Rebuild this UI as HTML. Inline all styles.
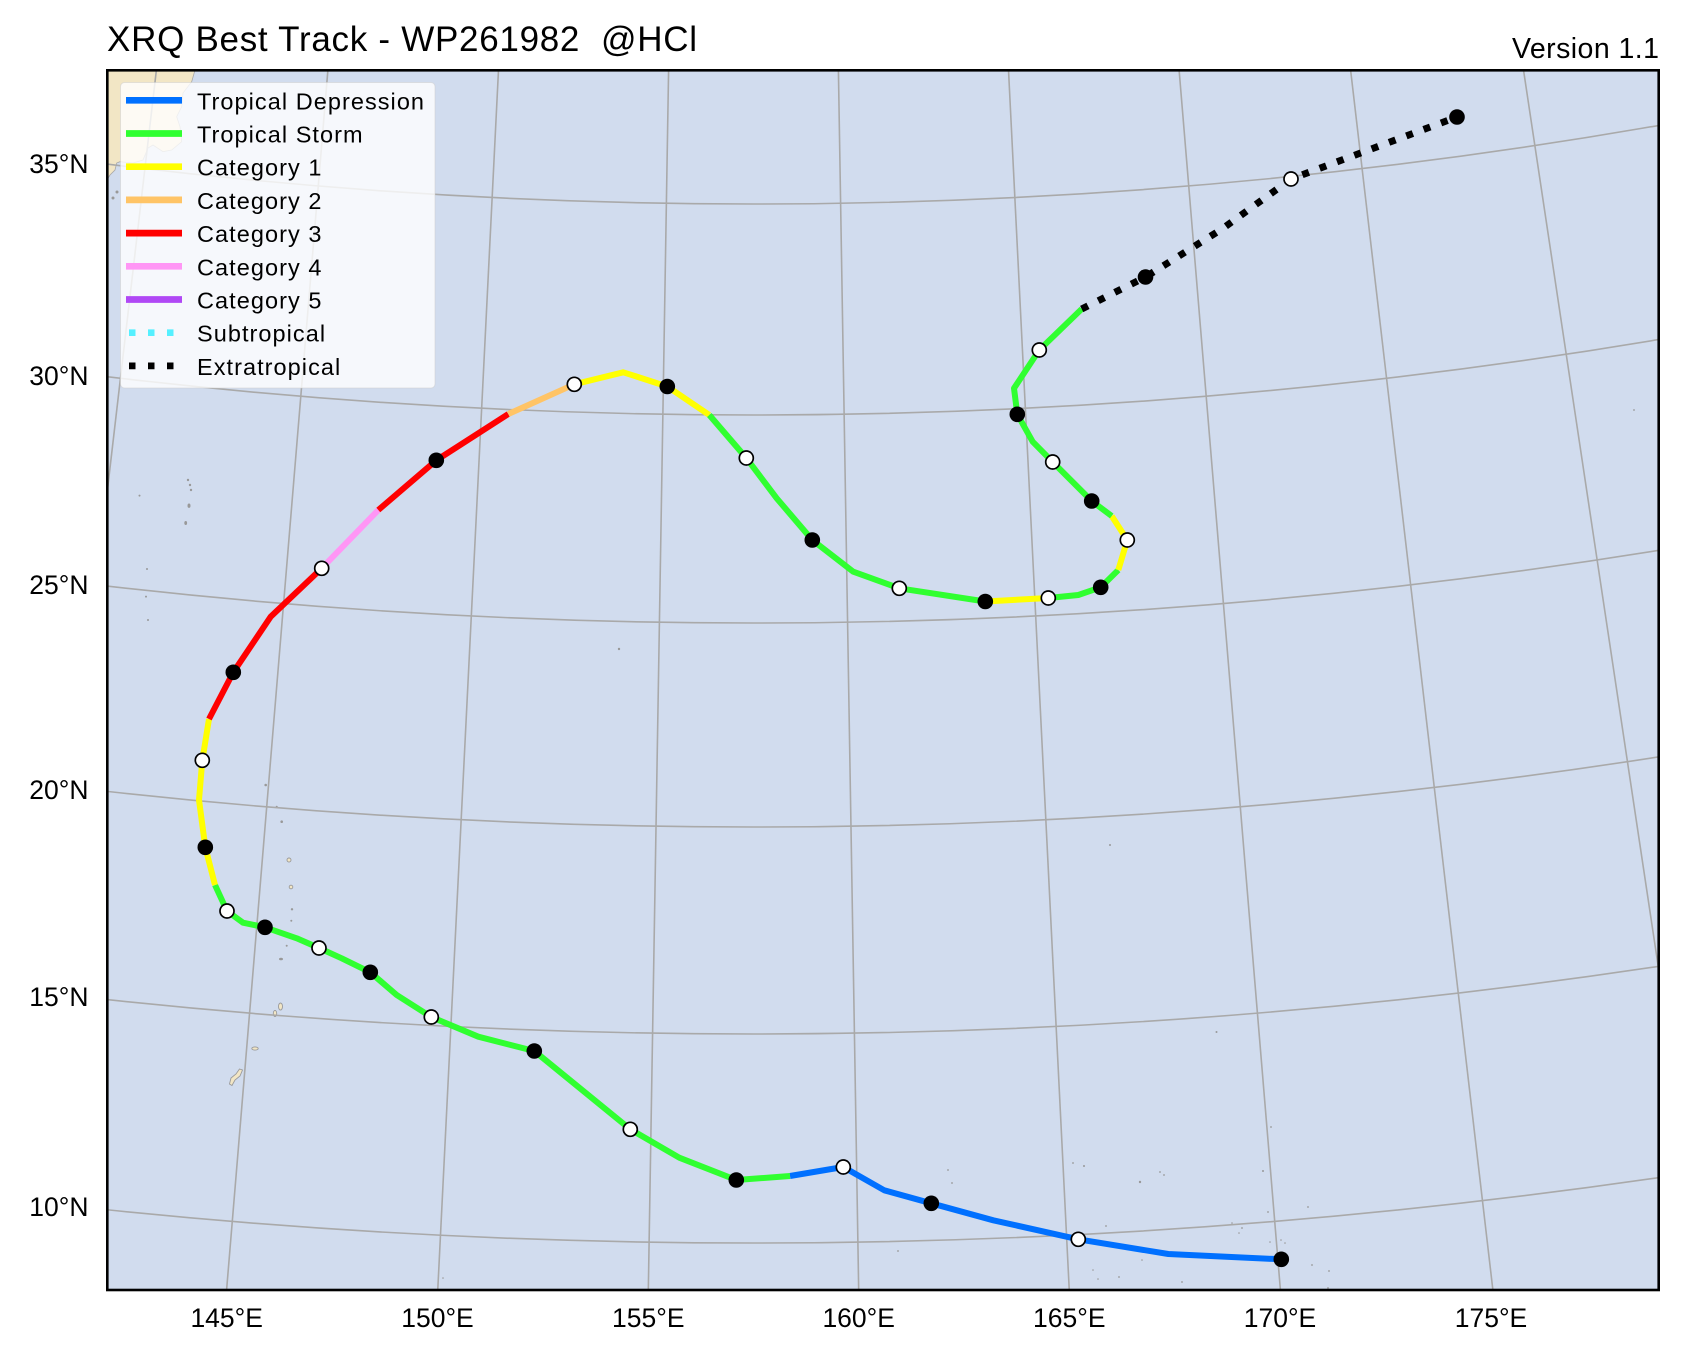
<!DOCTYPE html>
<html>
<head>
<meta charset="utf-8">
<style>
html,body{margin:0;padding:0;background:#fff;}
svg{display:block;}
text{font-family:"Liberation Sans",sans-serif;fill:#000;}
</style>
</head>
<body>
<svg width="1682" height="1357" viewBox="0 0 1682 1357" xmlns="http://www.w3.org/2000/svg">
<defs>
<clipPath id="mapclip"><rect x="107" y="70" width="1552" height="1220"/></clipPath>
</defs>
<rect x="0" y="0" width="1682" height="1357" fill="#ffffff"/>

<text x="107" y="51" font-size="35" textLength="590" lengthAdjust="spacing" style="white-space:pre" xml:space="preserve">XRQ Best Track - WP261982  @HCl</text>
<text x="1659" y="58" font-size="28.5" text-anchor="end" textLength="147" lengthAdjust="spacing">Version 1.1</text>

<g clip-path="url(#mapclip)">
  <rect x="107" y="70" width="1552" height="1220" fill="#d1dcee"/>
  <!-- land (Japan) -->
  <path d="M100,62 L196,62 L195,70 L191.7,81.7 L183,93 L181.7,106.7 L176.7,116.7 L180,126.7 L181.7,141.7 L171.7,150 L163,151.7 L153,145 L148,148 L143,160 L133,163 L120,161.7 L116.7,163 L115,170 L110,175 L107,180 L100,185 Z" fill="#f2e6c5" stroke="#a8a8a8" stroke-width="0.8"/>
  <!-- islands -->
  <g fill="#f2e6c5" stroke="#9a9a9a" stroke-width="0.9">
    <path d="M229.5,1084 L231,1078 L236,1074 L239.5,1069 L242.5,1070 L240,1076 L235,1080 L232,1085.5 Z"/>
    <ellipse cx="255" cy="1048.5" rx="3.2" ry="1.6"/>
    <ellipse cx="275" cy="1013.5" rx="1.7" ry="3"/>
    <ellipse cx="280.5" cy="1006.5" rx="2" ry="3.5"/>
    <circle cx="289" cy="860" r="2"/>
    <circle cx="291" cy="887" r="1.8"/>
  </g>
  <g fill="#999">
    <circle cx="265.7" cy="785" r="1.3"/><circle cx="276.7" cy="806.7" r="1"/><circle cx="281.7" cy="821.7" r="1.3"/>
    <circle cx="292" cy="909.3" r="1.2"/><circle cx="291.3" cy="920.7" r="1"/><circle cx="286.7" cy="945.7" r="1"/>
    <ellipse cx="281" cy="959" rx="2" ry="1.3"/>
    <circle cx="188" cy="480" r="1.2"/><circle cx="190" cy="485" r="1.2"/><circle cx="191" cy="490" r="1.2"/>
    <ellipse cx="189" cy="505.7" rx="1.5" ry="2.2"/><ellipse cx="185.7" cy="523" rx="1.4" ry="2"/>
    <circle cx="139.5" cy="495.6" r="1"/><circle cx="147" cy="569" r="1"/><circle cx="146" cy="596.6" r="1"/><circle cx="148" cy="620" r="1"/>
    <circle cx="113" cy="198" r="1.5"/><circle cx="117" cy="192" r="1.5"/>
    <circle cx="619" cy="649" r="1.2"/><circle cx="1110" cy="845" r="1"/><circle cx="1216.5" cy="1032" r="1"/><circle cx="1634" cy="410" r="0.9"/>
    <circle cx="948" cy="1170" r="0.9"/><circle cx="952" cy="1183" r="0.9"/><circle cx="898" cy="1251" r="0.9"/>
    <circle cx="1073" cy="1163" r="0.9"/><circle cx="1084" cy="1166" r="1"/><circle cx="1140" cy="1182" r="1.2"/>
    <circle cx="1160" cy="1172" r="0.9"/><circle cx="1164" cy="1175" r="0.9"/><circle cx="1263" cy="1171" r="1"/>
    <circle cx="1271" cy="1127" r="0.9"/><circle cx="1268" cy="1212" r="0.9"/><circle cx="1308" cy="1207" r="0.9"/>
    <circle cx="1232" cy="1223" r="0.8"/><circle cx="1242" cy="1228" r="0.9"/><circle cx="1239" cy="1233" r="0.8"/>
    <circle cx="1270" cy="1242" r="0.8"/><circle cx="1281" cy="1240" r="0.8"/><circle cx="1285" cy="1243" r="0.8"/>
    <circle cx="1312" cy="1265" r="0.9"/><circle cx="1329" cy="1271" r="0.9"/><circle cx="1328" cy="1288" r="0.9"/>
    <circle cx="1182" cy="1282" r="0.9"/><circle cx="1142" cy="1260" r="0.8"/><circle cx="1169" cy="1254" r="0.9"/>
    <circle cx="1119" cy="1277" r="0.9"/><circle cx="1098" cy="1279" r="0.8"/><circle cx="1093" cy="1270" r="0.8"/>
    <circle cx="1106" cy="1226" r="0.9"/><circle cx="443" cy="1278" r="0.8"/>
  </g>

  <!-- graticule -->
  <g fill="none" stroke="#a9a9a9" stroke-width="1.6">
    <circle cx="753.5" cy="-5050" r="6293"/>
    <circle cx="753.5" cy="-5050" r="6084"/>
    <circle cx="753.5" cy="-5050" r="5877"/>
    <circle cx="753.5" cy="-5050" r="5673"/>
    <circle cx="753.5" cy="-5050" r="5465"/>
    <circle cx="753.5" cy="-5050" r="5254"/>
    <line x1="156.4" y1="70" x2="14" y2="1291"/>
    <line x1="327.9" y1="70" x2="226.5" y2="1291"/>
    <line x1="498.5" y1="70" x2="437.7" y2="1291"/>
    <line x1="668.6" y1="70" x2="648.3" y2="1291"/>
    <line x1="838.4" y1="70" x2="858.7" y2="1291"/>
    <line x1="1008.5" y1="70" x2="1069.3" y2="1291"/>
    <line x1="1179.1" y1="70" x2="1280.5" y2="1291"/>
    <line x1="1350.6" y1="70" x2="1493" y2="1291"/>
    <line x1="1523.5" y1="70" x2="1707" y2="1291"/>
  </g>

  <!-- track -->
  <g fill="none" stroke-width="6" stroke-linejoin="round" stroke-linecap="butt">
    <path stroke="#0070ff" d="M1281.3,1259.3 L1168.3,1254 L1078.3,1239.3 L993.3,1220.3 L931.3,1203.3 L884.3,1190.3 L843.3,1167 L790,1176"/>
    <path stroke="#30ff30" d="M790,1176 L736.3,1180 L679.3,1157.7 L630.3,1129.3 L534.3,1051 L478.3,1036.7 L431.3,1017 L396.7,995 L370.3,972.3 L341.7,958.3 L319,948 L296.7,938.3 L265,927.3 L243,922.7 L227,911 L215,885"/>
    <path stroke="#ffff00" d="M215,885 L205.3,847.3 L199,800 L202.3,760.3 L209,719"/>
    <path stroke="#ff0000" d="M209,719 L233.3,672.3 L270.7,616.7 L321.7,568.3"/>
    <path stroke="#ff96f5" d="M321.7,568.3 L378.3,510"/>
    <path stroke="#ff0000" d="M378.3,510 L436.3,460.3 L508.3,414"/>
    <path stroke="#ffc466" d="M508.3,414 L574.3,384.3"/>
    <path stroke="#ffff00" d="M574.3,384.3 L623.3,372.3 L667.3,386.5 L709.3,415"/>
    <path stroke="#30ff30" d="M709.3,415 L746.3,458 L776.7,498.3 L812.3,540 L853.3,571.7 L899.3,588.3 L985.3,601.5"/>
    <path stroke="#ffff00" d="M985.3,601.5 L1048.3,598"/>
    <path stroke="#30ff30" d="M1048.3,598 L1078.3,595 L1100.7,587.3 L1118.3,570"/>
    <path stroke="#ffff00" d="M1118.3,570 L1127.3,540 L1111.7,516"/>
    <path stroke="#30ff30" d="M1111.7,516 L1091.7,501 L1052.7,462 L1032.7,441.7 L1017.3,414.3 L1014,388.3 L1039.3,350 L1081.7,309"/>
    <path stroke="#000000" stroke-width="7" stroke-dasharray="7 11.5" d="M1081.7,309 L1145.5,277 L1222,229 L1291,179 L1457,117"/>
  </g>

  <!-- markers -->
  <g fill="#000">
    <circle cx="1281.3" cy="1259.3" r="7.8"/><circle cx="931.3" cy="1203.3" r="7.8"/>
    <circle cx="736.3" cy="1180" r="7.8"/><circle cx="534.3" cy="1051" r="7.8"/>
    <circle cx="370.3" cy="972.3" r="7.8"/><circle cx="265" cy="927.3" r="7.8"/>
    <circle cx="205.3" cy="847.3" r="7.8"/><circle cx="233.3" cy="672.3" r="7.8"/>
    <circle cx="436.3" cy="460.3" r="7.8"/><circle cx="667.3" cy="386.5" r="7.8"/>
    <circle cx="812.3" cy="540" r="7.8"/><circle cx="985.3" cy="601.5" r="7.8"/>
    <circle cx="1100.7" cy="587.3" r="7.8"/><circle cx="1091.7" cy="501" r="7.8"/>
    <circle cx="1017.3" cy="414.3" r="7.8"/><circle cx="1145.5" cy="277" r="7.8"/>
    <circle cx="1457" cy="117" r="7.8"/>
  </g>
  <g fill="#fff" stroke="#000" stroke-width="1.7">
    <circle cx="1078.3" cy="1239.3" r="7"/><circle cx="843.3" cy="1167" r="7"/>
    <circle cx="630.3" cy="1129.3" r="7"/><circle cx="431.3" cy="1017" r="7"/>
    <circle cx="319" cy="948" r="7"/><circle cx="227" cy="911" r="7"/>
    <circle cx="202.3" cy="760.3" r="7"/><circle cx="321.7" cy="568.3" r="7"/>
    <circle cx="574.3" cy="384.3" r="7"/><circle cx="746.3" cy="458" r="7"/>
    <circle cx="899.3" cy="588.3" r="7"/><circle cx="1048.3" cy="598" r="7"/>
    <circle cx="1127.3" cy="540" r="7"/><circle cx="1052.7" cy="462" r="7"/>
    <circle cx="1039.3" cy="350" r="7"/><circle cx="1291" cy="179" r="7"/>
  </g>

  <!-- legend -->
  <rect x="120.5" y="82.5" width="314.5" height="305.5" rx="4" ry="4" fill="#ffffff" fill-opacity="0.8" stroke="#cccccc" stroke-opacity="0.5" stroke-width="1"/>
  <g stroke-width="6.7" fill="none">
    <line x1="126" y1="100.3" x2="182" y2="100.3" stroke="#0070ff"/>
    <line x1="126" y1="133.5" x2="182" y2="133.5" stroke="#30ff30"/>
    <line x1="126" y1="166.7" x2="182" y2="166.7" stroke="#ffff00"/>
    <line x1="126" y1="199.9" x2="182" y2="199.9" stroke="#ffc466"/>
    <line x1="126" y1="233.1" x2="182" y2="233.1" stroke="#ff0000"/>
    <line x1="126" y1="266.3" x2="182" y2="266.3" stroke="#ff96f5"/>
    <line x1="126" y1="299.5" x2="182" y2="299.5" stroke="#b048f5"/>
    <line x1="129" y1="332.7" x2="182" y2="332.7" stroke="#55f0ff" stroke-dasharray="6.5 12.5"/>
    <line x1="129" y1="365.9" x2="182" y2="365.9" stroke="#000000" stroke-dasharray="6.5 12.5"/>
  </g>
  <g font-size="23.5" style="letter-spacing:1.05px">
    <text x="197" y="109.3">Tropical Depression</text>
    <text x="197" y="142.5">Tropical Storm</text>
    <text x="197" y="175.7">Category 1</text>
    <text x="197" y="208.9">Category 2</text>
    <text x="197" y="242.1">Category 3</text>
    <text x="197" y="275.3">Category 4</text>
    <text x="197" y="308.5">Category 5</text>
    <text x="197" y="341.7">Subtropical</text>
    <text x="197" y="374.9">Extratropical</text>
  </g>
</g>

<!-- frame -->
<rect x="107.3" y="70.3" width="1551.4" height="1219.7" fill="none" stroke="#000" stroke-width="2.6"/>

<!-- axis labels -->
<g font-size="26.5" text-anchor="end">
  <text x="88.5" y="173">35°N</text>
  <text x="88.5" y="385">30°N</text>
  <text x="88.5" y="594">25°N</text>
  <text x="88.5" y="799">20°N</text>
  <text x="88.5" y="1006">15°N</text>
  <text x="88.5" y="1216">10°N</text>
</g>
<g font-size="26.5" text-anchor="middle">
  <text x="226.7" y="1327">145°E</text>
  <text x="437.5" y="1327">150°E</text>
  <text x="648.3" y="1327">155°E</text>
  <text x="858.7" y="1327">160°E</text>
  <text x="1069.3" y="1327">165°E</text>
  <text x="1280" y="1327">170°E</text>
  <text x="1491" y="1327">175°E</text>
</g>
</svg>
</body>
</html>
